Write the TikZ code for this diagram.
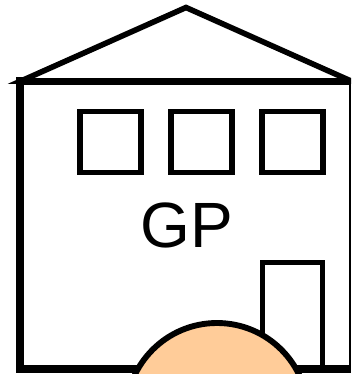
\documentclass[tikz,border=0pt]{standalone}
\usepackage{fontspec}
\setmainfont{Liberation Sans}
\definecolor{skin}{RGB}{255,204,153}
\tikzset{
  pane/.style={draw, line width=4.1pt, minimum width=45.5pt, minimum height=45.5pt, inner sep=0pt},
}
\begin{document}
\begin{tikzpicture}[x=0.75pt, y=-0.75pt]
  \useasboundingbox (0,0) rectangle (351,374);
  \clip (0,0) rectangle (351,374);

  % ROOF
  \draw[line width=4.2pt, line join=miter] (21,81) -- (186,7.5) -- (351,81) -- cycle;

  % WALLS
  \draw[line width=5.5pt] (16,81.5) -- (351,81.5);
  \draw[line width=6.2pt] (20,77) -- (20,372.7);
  \draw[line width=5.75pt] (16,369) -- (351,369);
  \draw[line width=2pt] (350,81) -- (350,369);

  % WINDOWS
  \foreach \x/\name in {110.5/winA, 201.5/winB, 292.5/winC}
    \node[pane] (\name) at (\x,142) {};

  % DOOR
  \draw[line width=4.1pt] (262.5,369) |- (322.5,262.5) -- (322.5,369);

  \node[font=\fontsize{48}{48}\selectfont] (label) at (187,225) {GP};

  % HEAD
  \draw[line width=4.4pt, fill=skin] (217,414) circle [radius=91];
\end{tikzpicture}
\end{document}
